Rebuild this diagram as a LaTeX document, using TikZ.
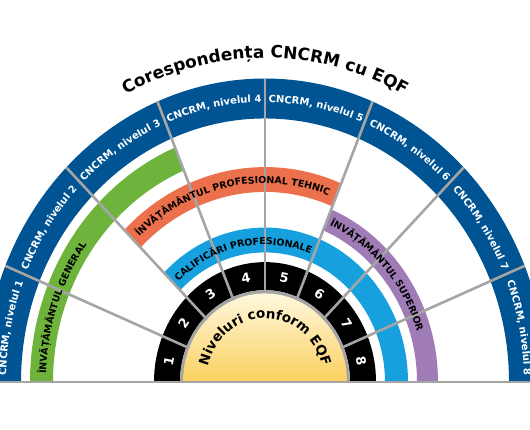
\documentclass[tikz,border=0pt]{standalone}
\usepackage{fontspec}
\setmainfont{DejaVu Sans}
\usetikzlibrary{decorations.text}
\definecolor{cncrmblue}{RGB}{0,84,147}
\definecolor{generalgreen}{RGB}{110,180,60}
\definecolor{tehnicorange}{RGB}{236,112,76}
\definecolor{califblue}{RGB}{22,160,222}
\definecolor{superiorpurple}{RGB}{160,124,182}
\definecolor{dividergray}{RGB}{165,165,165}
\definecolor{eqflight}{RGB}{255,247,222}
\definecolor{eqfdeep}{RGB}{250,208,95}

\begin{document}
\begin{tikzpicture}[x=1bp,y=1.08bp,
	divider/.style={draw=dividergray,line width=2.6bp},
	num/.style={text=white,font=\bfseries\fontsize{13}{13}\selectfont,inner sep=0pt},
	arctext/.style 2 args={decorate,decoration={text along path,text align=#1,text={#2}}}]
	\clip (-265bp,-48bp) rectangle (265bp,382bp);
	% bands
	\fill[cncrmblue] (180:244) arc[start angle=180,end angle=0,radius=244] -- (0:281) arc[start angle=0,end angle=180,radius=281] -- cycle;
	\fill[generalgreen] (180:212) arc[start angle=180,end angle=112.5,radius=212] -- (112.5:235) arc[start angle=112.5,end angle=180,radius=235] -- cycle;
	\fill[tehnicorange] (135:176) arc[start angle=135,end angle=67.5,radius=176] -- (67.5:199) arc[start angle=67.5,end angle=135,radius=199] -- cycle;
	\fill[superiorpurple] (67.5:152) arc[start angle=67.5,end angle=0,radius=152] -- (0:173) arc[start angle=0,end angle=67.5,radius=173] -- cycle;
	\fill[califblue] (135:120) arc[start angle=135,end angle=0,radius=120] -- (0:143) arc[start angle=0,end angle=135,radius=143] -- cycle;
	\fill[black] (180:85) arc[start angle=180,end angle=0,radius=85] -- (0:111) arc[start angle=0,end angle=180,radius=111] -- cycle;
	\fill[dividergray] (180:85) arc[start angle=180,end angle=0,radius=85] -- cycle;
	\shade[top color=eqflight,bottom color=eqfdeep] (180:82) arc[start angle=180,end angle=0,radius=82] -- cycle;
	% dividers
	\draw[divider] (22.5:82) -- (22.5:281);
	\draw[divider] (45:82) -- (45:281);
	\draw[divider] (67.5:82) -- (67.5:281);
	\draw[divider] (90:82) -- (90:281);
	\draw[divider] (112.5:82) -- (112.5:281);
	\draw[divider] (135:82) -- (135:281);
	\draw[divider] (157.5:82) -- (157.5:281);
	\draw[divider] (-265,0) -- (265,0);
	% EQF levels
	\node[num,rotate=78.75] (n1) at (168.75:98) {1};
	\node[num,rotate=56.25] (n2) at (146.25:98) {2};
	\node[num,rotate=33.75] (n3) at (123.75:98) {3};
	\node[num,rotate=11.25] (n4) at (101.25:98) {4};
	\node[num,rotate=-11.25] (n5) at (78.75:98) {5};
	\node[num,rotate=-33.75] (n6) at (56.25:98) {6};
	\node[num,rotate=-56.25] (n7) at (33.75:98) {7};
	\node[num,rotate=-78.75] (n8) at (11.25:98) {8};
	\path[arctext={center}{|\bfseries\fontsize{13.5}{14}\selectfont|Niveluri conform EQF}] (180:59) arc[start angle=180,end angle=0,radius=59];
	% CNCRM levels
	\path[arctext={center}{|\bfseries\fontsize{10}{10}\selectfont\color{white}|CNCRM, nivelul 1}] (190:259) arc[start angle=190,end angle=147.5,radius=259];
	\path[arctext={center}{|\bfseries\fontsize{10}{10}\selectfont\color{white}|CNCRM, nivelul 2}] (167.5:259) arc[start angle=167.5,end angle=125,radius=259];
	\path[arctext={center}{|\bfseries\fontsize{10}{10}\selectfont\color{white}|CNCRM, nivelul 3}] (145:259) arc[start angle=145,end angle=102.5,radius=259];
	\path[arctext={center}{|\bfseries\fontsize{10}{10}\selectfont\color{white}|CNCRM, nivelul 4}] (122.5:259) arc[start angle=122.5,end angle=80,radius=259];
	\path[arctext={center}{|\bfseries\fontsize{10}{10}\selectfont\color{white}|CNCRM, nivelul 5}] (100:259) arc[start angle=100,end angle=57.5,radius=259];
	\path[arctext={center}{|\bfseries\fontsize{10}{10}\selectfont\color{white}|CNCRM, nivelul 6}] (77.5:259) arc[start angle=77.5,end angle=35,radius=259];
	\path[arctext={center}{|\bfseries\fontsize{10}{10}\selectfont\color{white}|CNCRM, nivelul 7}] (55:259) arc[start angle=55,end angle=12.5,radius=259];
	\path[arctext={center}{|\bfseries\fontsize{10}{10}\selectfont\color{white}|CNCRM, nivelul 8}] (32.5:259) arc[start angle=32.5,end angle=-10,radius=259];
	% education paths
	\path[arctext={left}{|\bfseries\fontsize{9.5}{10}\selectfont|ÎNVĂȚĂMÂNTUL GENERAL}] (178:219) arc[start angle=178,end angle=100,radius=219];
	\path[arctext={center}{|\bfseries\fontsize{9.5}{10}\selectfont|ÎNVĂȚĂMÂNTUL PROFESIONAL TEHNIC}] (145:184) arc[start angle=145,end angle=57.5,radius=184];
	\path[arctext={left}{|\bfseries\fontsize{9.5}{10}\selectfont|ÎNVĂȚĂMÂNTUL SUPERIOR}] (66:159) arc[start angle=66,end angle=-5,radius=159];
	\path[arctext={left}{|\bfseries\fontsize{9.5}{10}\selectfont|CALIFICĂRI PROFESIONALE}] (133:127) arc[start angle=133,end angle=-5,radius=127];
	% title
	\path[arctext={center}{|\bfseries\fontsize{17}{17}\selectfont|Corespondența CNCRM cu EQF}] (135:300) arc[start angle=135,end angle=45,radius=300];
\end{tikzpicture}
\end{document}
